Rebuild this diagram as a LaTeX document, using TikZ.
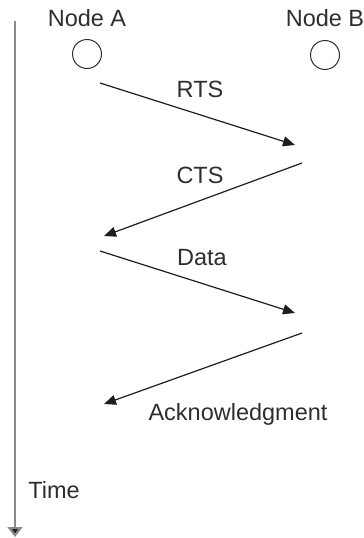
\documentclass[tikz,border=0pt]{standalone}
\usepackage{fontspec}
\setmainfont{Liberation Sans}
\usetikzlibrary{arrows.meta}
\definecolor{txt}{HTML}{2E2E2E}
\definecolor{axis}{HTML}{8A8A8A}
\definecolor{msg}{HTML}{1E1E1E}
\begin{document}
\begin{tikzpicture}[x=1pt,y=-1pt,
  lbl/.style={anchor=base,inner sep=0pt,text=txt,font=\fontsize{23.5}{27}\selectfont},
  station/.style={circle,draw=txt,line width=1pt,minimum size=29pt,inner sep=0pt},
  message/.style={draw=msg,line width=1.2pt,-{Triangle[length=12pt,width=10pt]}},
  timeline/.style={draw=axis,line width=2.2pt,-{Triangle[length=10pt,width=15pt,fill=msg]}}]
\useasboundingbox (0,0) rectangle (364,538);

% station labels and symbols
\node[lbl] (la) at (87,27) {Node A};
\node[lbl] (lb) at (325,27) {Node B};
\node[station] (a) at (87,54) {};
\node[station] (b) at (325,55) {};

% message end points
\coordinate (rts0) at (100,83);
\coordinate (rts1) at (295,145);
\coordinate (cts0) at (302,163);
\coordinate (cts1) at (104,236);
\coordinate (dat0) at (100,251);
\coordinate (dat1) at (295,313);
\coordinate (ack0) at (302,333);
\coordinate (ack1) at (104,404);

\draw[message] (rts0) -- (rts1);
\draw[message] (cts0) -- (cts1);
\draw[message] (dat0) -- (dat1);
\draw[message] (ack0) -- (ack1);

% message labels
\node[lbl] (trts) at (200,97) {RTS};
\node[lbl] (tcts) at (200,183) {CTS};
\node[lbl] (tdat) at (202,265) {Data};
\node[lbl] (tack) at (238,420) {Acknowledgment};

% time axis
\coordinate (t0) at (15,21);
\coordinate (t1) at (15,537);
\draw[timeline] (t0) -- (t1);
\node[lbl] (ttime) at (54,498) {Time};
\end{tikzpicture}
\end{document}
